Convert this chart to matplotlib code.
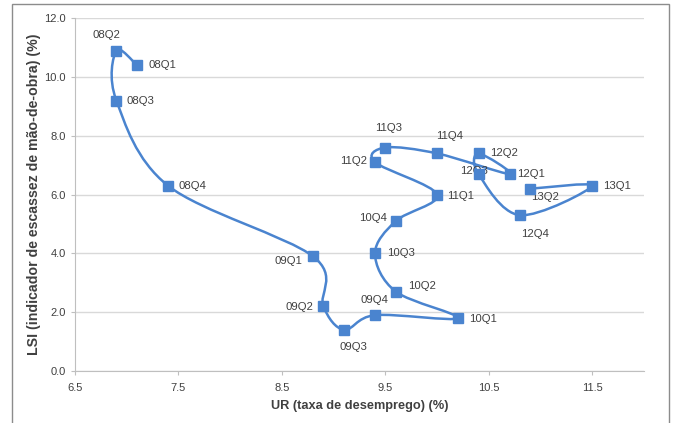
import numpy as np
import matplotlib
matplotlib.use("Agg")
import matplotlib.pyplot as plt
from matplotlib.path import Path
from matplotlib.patches import PathPatch, Rectangle

plt.rcParams['font.family'] = ['Liberation Sans', 'DejaVu Sans']

quarters = ["08Q1", "08Q2", "08Q3", "08Q4",
            "09Q1", "09Q2", "09Q3", "09Q4",
            "10Q1", "10Q2", "10Q3", "10Q4",
            "11Q1", "11Q2", "11Q3", "11Q4",
            "12Q1", "12Q2", "12Q3", "12Q4",
            "13Q1", "13Q2"]
ur = [7.1, 6.9, 6.9, 7.4,
      8.8, 8.9, 9.1, 9.4,
      10.2, 9.6, 9.4, 9.6,
      10.0, 9.4, 9.5, 10.0,
      10.7, 10.4, 10.4, 10.8,
      11.5, 10.9]
lsi = [10.4, 10.9, 9.2, 6.3,
       3.9, 2.2, 1.4, 1.9,
       1.8, 2.7, 4.0, 5.1,
       6.0, 7.1, 7.6, 7.4,
       6.7, 7.4, 6.7, 5.3,
       6.3, 6.2]

# label offsets in pixels (dx, dy, ha)
label_pos = {
    "08Q1": (11, 0, "left"), "08Q2": (-10, 16, "center"),
    "08Q3": (10, 0, "left"), "08Q4": (10, 0, "left"),
    "09Q1": (-11, -5, "right"), "09Q2": (-10, -1, "right"),
    "09Q3": (9, -17, "center"), "09Q4": (-1, 15, "center"),
    "10Q1": (11, -1, "left"), "10Q2": (12, 6, "left"),
    "10Q3": (12, 0, "left"), "10Q4": (-9, 3, "right"),
    "11Q1": (10, -1, "left"), "11Q2": (-8, 1, "right"),
    "11Q3": (3, 20, "center"), "11Q4": (12, 17, "center"),
    "12Q1": (8, 0, "left"), "12Q2": (12, 0, "left"),
    "12Q3": (-4, 3, "center"), "12Q4": (15, -19, "center"),
    "13Q1": (11, 0, "left"), "13Q2": (15, -8, "center"),
}

blue = "#4a84cf"

fig = plt.figure(figsize=(6.73, 4.23), dpi=100)
ax = fig.add_axes([0.1114, 0.123, 0.8456, 0.834])

# smoothed line like Excel (Catmull-Rom as cubic Bezier)
pts = np.column_stack([ur, lsi])
verts = [tuple(pts[0])]
codes = [Path.MOVETO]
n = len(pts)
for i in range(n - 1):
    p0 = pts[i - 1] if i > 0 else pts[i]
    p1 = pts[i]
    p2 = pts[i + 1]
    p3 = pts[i + 2] if i + 2 < n else pts[i + 1]
    c1 = p1 + (p2 - p0) / 6.0
    c2 = p2 - (p3 - p1) / 6.0
    verts += [tuple(c1), tuple(c2), tuple(p2)]
    codes += [Path.CURVE4] * 3
ax.add_patch(PathPatch(Path(verts, codes), facecolor="none",
                       edgecolor=blue, lw=1.8, zorder=3))
ax.plot(ur, lsi, ls="none", marker="s", ms=6.8, color=blue, zorder=4)

for q, x, y in zip(quarters, ur, lsi):
    dx, dy, ha = label_pos[q]
    ax.annotate(q, (x, y), xytext=(dx, dy), textcoords="offset pixels",
                ha=ha, va="center", fontsize=8.2, color="#404040")

ax.set_xlim(6.5, 12.0)
ax.set_ylim(0, 12)
ax.set_xticks([6.5, 7.5, 8.5, 9.5, 10.5, 11.5])
ax.set_xticklabels(["6.5", "7.5", "8.5", "9.5", "10.5", "11.5"])
ax.set_yticks(np.arange(0, 12.1, 2))
ax.set_yticklabels(["%.1f" % v for v in np.arange(0, 12.1, 2)])
ax.yaxis.grid(True, color="#d9d9d9", lw=1)
ax.set_axisbelow(True)
for s in ["top", "right"]:
    ax.spines[s].set_visible(False)
for s in ["left", "bottom"]:
    ax.spines[s].set_color("#bfbfbf")
ax.tick_params(axis="both", colors="#bfbfbf", labelcolor="#404040",
               labelsize=8, length=3)
ax.tick_params(axis="x", pad=6)

ax.set_xlabel("UR (taxa de desemprego) (%)", fontsize=9.2, fontweight="bold",
              color="#404040", labelpad=5)
ax.set_ylabel("LSI (indicador de escassez de mão-de-obra) (%)", fontsize=10.2,
              fontweight="bold", color="#404040")
ax.yaxis.set_label_coords(-0.06, 0.5)

fig.patches.append(Rectangle((12 / 673, -0.05), (669 - 12) / 673, 1 - 4 / 423 + 0.05,
                             transform=fig.transFigure, fill=False,
                             edgecolor="#8c8c8c", lw=1))

fig.savefig("out.png", dpi=100)
